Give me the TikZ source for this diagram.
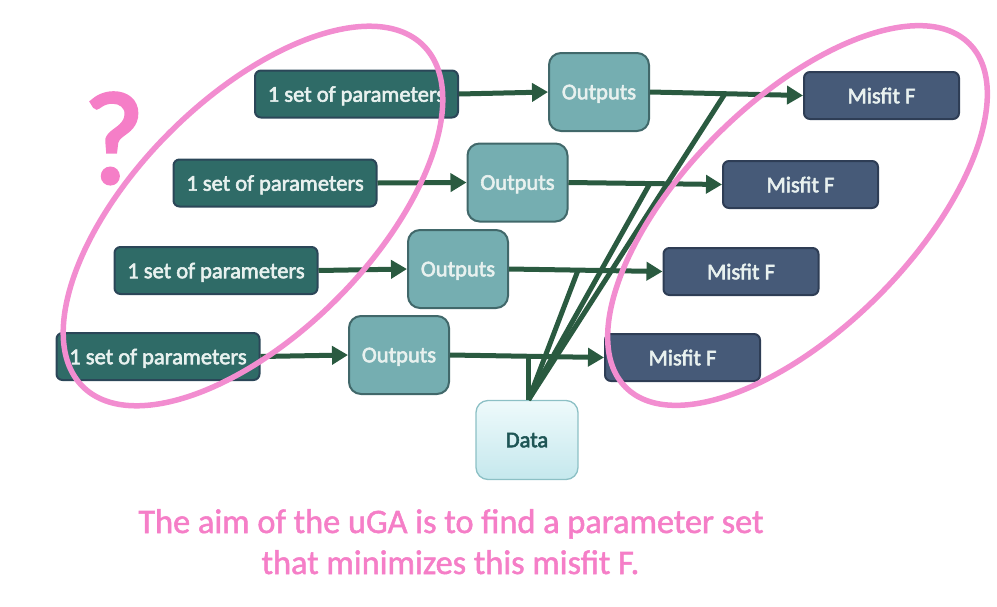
\documentclass[tikz,border=0pt]{standalone}
\usepackage{fontspec}
\setmainfont{Carlito}
\newfontfamily\boxfam{Carlito}[FakeBold=2.5]
\newfontfamily\capfam{Carlito}[FakeBold=1.5]
\usetikzlibrary{arrows.meta,calc}
\definecolor{paramfill}{HTML}{2F6B67}
\definecolor{paramdraw}{HTML}{2B4658}
\definecolor{outfill}{HTML}{75AEB1}
\definecolor{outdraw}{HTML}{41686A}
\definecolor{misfill}{HTML}{465A78}
\definecolor{misdraw}{HTML}{2E3D55}
\definecolor{datatop}{HTML}{EEFAFB}
\definecolor{databot}{HTML}{C5E8ED}
\definecolor{datadraw}{HTML}{8CC0C5}
\definecolor{datatext}{HTML}{1E5555}
\definecolor{boxtext}{HTML}{E8F1EF}
\definecolor{linecol}{HTML}{2A5A40}
\definecolor{pinkline}{HTML}{F28DD0}
\definecolor{pinktext}{HTML}{F57EC7}
\begin{document}
\begin{tikzpicture}[x=1pt,y=-1pt,
  boxfont/.style={font=\boxfam\fontsize{22.5}{25}\selectfont, text depth=0pt},
  parambox/.style={rectangle, rounded corners=6pt, fill=paramfill, draw=paramdraw, line width=2pt,
    minimum width=203pt, minimum height=47pt, inner sep=0pt, text=boxtext, boxfont},
  outbox/.style={rectangle, rounded corners=12pt, fill=outfill, draw=outdraw, line width=2pt,
    minimum width=100pt, minimum height=78pt, inner sep=0pt, text=boxtext, boxfont},
  misbox/.style={rectangle, rounded corners=6pt, fill=misfill, draw=misdraw, line width=2pt,
    minimum width=155pt, minimum height=47pt, inner sep=0pt, text=boxtext, boxfont},
  databox/.style={rectangle, rounded corners=12pt, top color=datatop, bottom color=databot, draw=datadraw, line width=1.3pt,
    minimum width=102pt, minimum height=79pt, inner sep=0pt, text=datatext, boxfont},
  arr/.style={draw=linecol, line width=5pt, -{Triangle[length=16pt,width=18pt]}},
  dline/.style={draw=linecol, line width=5pt},
  ring/.style={draw=pinkline, line width=5.5pt},
  pinkfont/.style={text=pinktext, font=\capfam\fontsize{34.3}{40}\selectfont, inner sep=0pt}
]
\useasboundingbox (0,0) rectangle (997,606);

% parameter sets
\node[parambox] (p1) at (356.5,94) {1 set of parameters};
\node[parambox] (p2) at (275,183) {1 set of parameters};
\node[parambox] (p3) at (216,270.5) {1 set of parameters};
\node[parambox] (p4) at (158,356.5) {1 set of parameters};

% outputs
\node[outbox] (o1) at (599,92) {Outputs};
\node[outbox] (o2) at (517.5,182.5) {Outputs};
\node[outbox] (o3) at (458,269) {Outputs};
\node[outbox] (o4) at (399,355) {Outputs};

% misfits
\node[misbox] (m1) at (881.5,95.5) {Misfit F};
\node[misbox] (m2) at (800.5,184.5) {Misfit F};
\node[misbox] (m3) at (741,271.5) {Misfit F};
\node[misbox] (m4) at (682.5,357.5) {Misfit F};

% data
\node[databox] (d) at (527,440) {Data};

% junction points on the output->misfit connectors
\coordinate (j1) at ($(o1.east)!0.49!(m1.west)$);
\coordinate (j2) at ($(o2.east)!0.53!(m2.west)$);
\coordinate (j3) at ($(o3.east)!0.45!(m3.west)$);
\coordinate (j4) at ($(o4.east)!0.51!(m4.west)$);
\coordinate (dt) at ($(d.north)+(1.5,0)$);

% data lines
\draw[dline] (dt) -- (j1);
\draw[dline] (dt) -- (j2);
\draw[dline] (dt) -- (j3);
\draw[dline] (dt |- j4) ++(0,-2) -- (dt);

% arrows
\draw[arr] (p1.east) -- (o1.west);
\draw[arr] (p2.east) -- (o2.west);
\draw[arr] (p3.east) -- (o3.west);
\draw[arr] (p4.east) -- (o4.west);
\draw[arr] (o1.east) -- (m1.west);
\draw[arr] (o2.east) -- (m2.west);
\draw[arr] (o3.east) -- (m3.west);
\draw[arr] (o4.east) -- (m4.west);

% highlight ellipses
\draw[ring] (253,216) ellipse [x radius=241pt, y radius=118pt, rotate=45];
\draw[ring] (797.5,215.5) ellipse [x radius=243pt, y radius=114pt, rotate=45];

% question mark
\node[text=pinktext, font=\boxfam\fontsize{132}{132}\selectfont, inner sep=0pt, anchor=base] (q) at (114,183) {?};

% caption
\node[pinkfont, anchor=base] (c1) at (451,533) {The aim of the uGA is to find a parameter set};
\node[pinkfont, anchor=base] (c2) at (450.5,574) {that minimizes this misfit F.};
\end{tikzpicture}
\end{document}
